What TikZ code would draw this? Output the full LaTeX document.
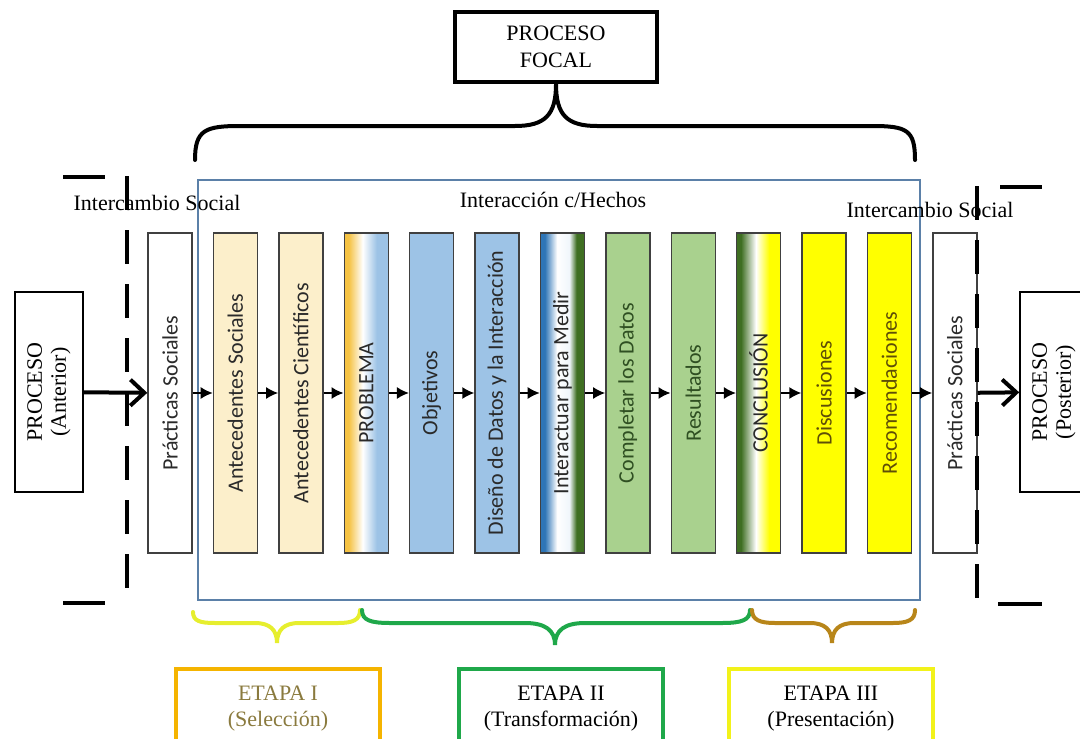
\documentclass[tikz,border=0pt]{standalone}
\usepackage{fontspec}
\usepackage{graphicx}
\setmainfont{Liberation Serif}
\newfontfamily\carlito{Carlito}
\usetikzlibrary{arrows.meta,positioning}

\definecolor{frameblue}{HTML}{5B80A8}
\definecolor{wheat}{HTML}{FCEFCB}
\definecolor{skyfill}{HTML}{9DC3E6}
\definecolor{leaffill}{HTML}{A9D18E}
\definecolor{deepblue}{HTML}{2E75B6}
\definecolor{deepgreen}{HTML}{3F6F22}
\definecolor{amber}{HTML}{F5C242}
\definecolor{lemon}{HTML}{FFFF00}
\definecolor{goldline}{HTML}{F5B400}
\definecolor{stagegreen}{HTML}{1FA84A}
\definecolor{lemonline}{HTML}{F2F21A}
\definecolor{braceyellow}{HTML}{E6EE2E}
\definecolor{braceolive}{HTML}{B8861A}
\definecolor{boxtext}{HTML}{2A2A2A}
\definecolor{greentext}{HTML}{2F4F22}
\definecolor{olivetext}{HTML}{5E4E08}
\definecolor{etapatext}{HTML}{8A7A3E}

% fades of the three transition boxes (path spans 25bp..75bp)
\pgfdeclarehorizontalshading{probfade}{100bp}{color(0bp)=(amber); color(25bp)=(amber);
  color(30bp)=(amber); color(46bp)=(white); color(62bp)=(skyfill); color(100bp)=(skyfill)}
\pgfdeclarehorizontalshading{medirfade}{100bp}{color(0bp)=(deepblue); color(25bp)=(deepblue);
  color(30bp)=(deepblue); color(44bp)=(white); color(58bp)=(white!85!skyfill);
  color(66bp)=(deepgreen); color(100bp)=(deepgreen)}
\pgfdeclarehorizontalshading{concfade}{100bp}{color(0bp)=(deepgreen); color(25bp)=(deepgreen);
  color(30bp)=(deepgreen); color(47bp)=(white); color(62bp)=(lemon); color(100bp)=(lemon)}

\newcommand{\vtext}[1]{\rotatebox{90}{#1}}

\begin{document}
\begin{tikzpicture}[x=0.5pt, y=-0.5pt,
  node distance = 10pt,
  stagebox/.style = {rectangle, draw=black!75, line width=0.7pt,
                     minimum width=22pt, minimum height=160pt, inner sep=0pt,
                     font=\carlito\fontsize{11}{13}\selectfont, text=boxtext},
  proc/.style     = {rectangle, draw, line width=0.8pt, rotate=90,
                     minimum width=100pt, minimum height=34pt, inner sep=0pt,
                     align=center, font=\fontsize{11}{12}\selectfont},
  etapa/.style    = {rectangle, line width=2pt, anchor=north west,
                     minimum width=102pt, minimum height=40pt,
                     align=center, font=\fontsize{11}{13}\selectfont},
  label/.style    = {inner sep=0pt, font=\fontsize{11}{13}\selectfont},
  arr/.style      = {-{Latex[length=6pt,width=6pt]}, line width=0.75pt},
  bigarr/.style   = {-{Straight Barb[length=7pt,width=13pt]}, line width=2pt},
  bracket/.style  = {line width=2pt, dash pattern=on 17pt off 10pt},
  brace/.style    = {line width=2pt, line cap=round}
]
\useasboundingbox (0,0) rectangle (1080,738);

% frame of the focal process
\draw[frameblue, line width=1pt] (198,180) rectangle (920,600);
\node[label] (inter) at (553,200) {Interacción c/Hechos};
\node[label] (socl)  at (157,203) {Intercambio Social};
\node[label] (socr)  at (930,210) {Intercambio Social};

% stages in a row
\node[stagebox] (ps1) at (170,393) {\vtext{Prácticas Sociales}};
\node[stagebox, fill=wheat, right=of ps1] (ants) {\vtext{Antecedentes Sociales}};
\node[stagebox, fill=wheat, right=of ants] (antc) {\vtext{Antecedentes Científicos}};
\node[stagebox, shading=probfade, right=of antc] (prob) {\vtext{PROBLEMA}};
\node[stagebox, fill=skyfill, right=of prob] (obj) {\vtext{Objetivos}};
\node[stagebox, fill=skyfill, right=of obj] (dis) {\vtext{Diseño de Datos y la Interacción}};
\node[stagebox, shading=medirfade, right=of dis] (intm) {\vtext{Interactuar para Medir}};
\node[stagebox, fill=leaffill, text=greentext, right=of intm] (comp) {\vtext{Completar los Datos}};
\node[stagebox, fill=leaffill, text=greentext, right=of comp] (res) {\vtext{Resultados}};
\node[stagebox, shading=concfade, right=of res] (conc) {\vtext{CONCLUSIÓN}};
\node[stagebox, fill=lemon, text=olivetext, right=of conc] (disc) {\vtext{Discusiones}};
\node[stagebox, fill=lemon, text=olivetext, right=of disc] (rec) {\vtext{Recomendaciones}};
\node[stagebox, right=of rec] (ps2) {\vtext{Prácticas Sociales}};

\draw[arr] (ps1)  -- (ants);
\draw[arr] (ants) -- (antc);
\draw[arr] (antc) -- (prob);
\draw[arr] (prob) -- (obj);
\draw[arr] (obj)  -- (dis);
\draw[arr] (dis)  -- (intm);
\draw[arr] (intm) -- (comp);
\draw[arr] (comp) -- (res);
\draw[arr] (res)  -- (conc);
\draw[arr] (conc) -- (disc);
\draw[arr] (disc) -- (rec);
\draw[arr] (rec)  -- (ps2);

% previous and next process
\node[proc] (prev) at (49,392)   {PROCESO\\(Anterior)};
\node[proc] (next) at (1054,392) {PROCESO\\(Posterior)};
\draw[bigarr] (prev) -- (ps1);
\draw[bigarr] (ps2)  -- (next);

% dashed brackets
\draw[line width=2pt] (63,177) -- (105,177);
\draw[bracket] (127,176) -- (127,604);
\draw[line width=2pt] (63,603) -- (105,603);
\draw[line width=2pt] (1000,187) -- (1042,187);
\draw[bracket] (977,186) -- (977,606);
\draw[line width=2pt] (998,604) -- (1042,604);

% focal process and its brace
\node[rectangle, draw, line width=2pt, minimum width=101pt, minimum height=35pt,
      align=center, font=\fontsize{11}{13.5}\selectfont] (focal) at (556,47) {PROCESO\\FOCAL};
\draw[brace] (195,160) .. controls (195,130) and (205,126) .. (240,126) -- (515,126)
  .. controls (545,126) and (556,115) .. (focal.south)
  .. controls (556,115) and (567,126) .. (597,126) -- (872,126)
  .. controls (907,126) and (915,130) .. (915,160);

% braces under the frame
\draw[brace, braceyellow] (193,612) .. controls (193,621) and (200,623) .. (215,623) -- (255,623)
  .. controls (270,623) and (277,630) .. (277,643)
  .. controls (277,630) and (284,623) .. (299,623) -- (338,623)
  .. controls (353,623) and (360,620) .. (360,610);
\draw[brace, stagegreen] (362,610) .. controls (362,620) and (370,623) .. (390,623) -- (525,623)
  .. controls (545,623) and (555,630) .. (555,645)
  .. controls (555,630) and (565,623) .. (585,623) -- (722,623)
  .. controls (742,623) and (750,620) .. (750,610);
\draw[brace, braceolive] (752,610) .. controls (752,620) and (760,623) .. (775,623) -- (810,623)
  .. controls (825,623) and (832,630) .. (832,643)
  .. controls (832,630) and (839,623) .. (854,623) -- (893,623)
  .. controls (908,623) and (915,620) .. (915,610);

% stages
\node[etapa, draw=goldline, text=etapatext] (et1) at (174,667) {ETAPA I\\(Selección)};
\node[etapa, draw=stagegreen] (et2) at (457,667) {ETAPA II\\(Transformación)};
\node[etapa, draw=lemonline] (et3) at (727,667) {ETAPA III\\(Presentación)};
\end{tikzpicture}
\end{document}
